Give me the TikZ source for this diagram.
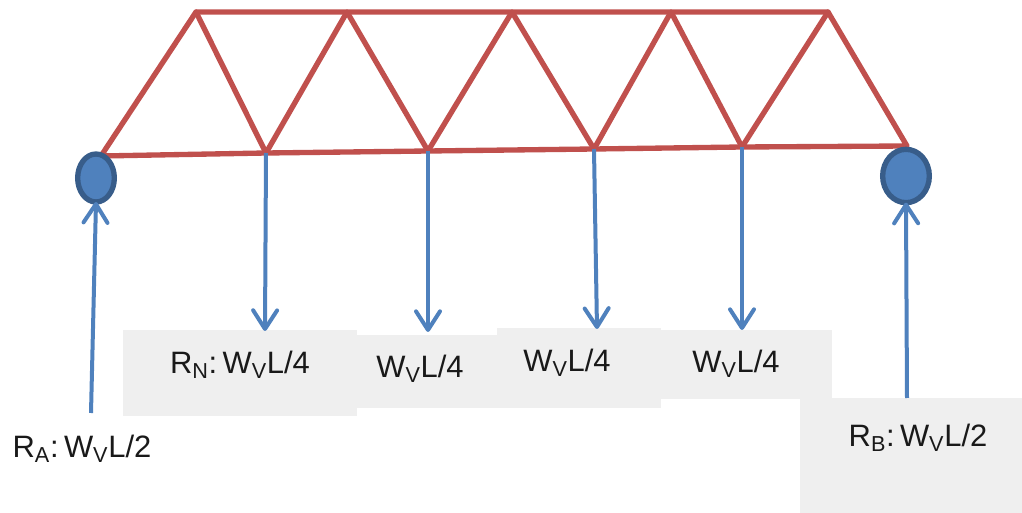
\documentclass[tikz,border=0pt]{standalone}
\usepackage{fontspec}
\setmainfont{Liberation Sans}
\usetikzlibrary{arrows.meta,shapes.geometric}
\definecolor{trusscol}{RGB}{192,80,77}
\definecolor{loadcol}{RGB}{79,129,189}
\definecolor{pinedge}{RGB}{56,93,138}
\definecolor{pinfill}{RGB}{79,129,189}
\definecolor{padcol}{RGB}{239,239,239}
\tikzset{
 px/.style={x=0.75pt,y=-0.75pt},
 member/.style={draw=trusscol,line width=4pt,line cap=round,line join=round},
 load/.style={draw=loadcol,line width=3pt,-{Straight Barb[length=14pt,width=18pt,line width=3pt,round]}},
 pin/.style={ellipse,draw=pinedge,fill=pinfill,line width=4pt,inner sep=0pt,outer sep=0pt},
 lab/.style={font=\fontsize{23.2}{26}\selectfont,text=black!90,inner sep=0pt},
 pad/.style={fill=padcol,draw=none}
}
\newcommand{\gapcolon}{:\hspace{4pt}}
\begin{document}
\begin{tikzpicture}[px]
\useasboundingbox (0,0) rectangle (1022,513);
\fill[pad] (123,330) rectangle (357,416);
\fill[pad] (357,335) rectangle (497,408);
\fill[pad] (497,328) rectangle (661,408);
\fill[pad] (661,330) rectangle (832,399);
\fill[pad] (800,398) rectangle (1022,513);
\coordinate (T1) at (196,12);\coordinate (T2) at (347,12);\coordinate (T3) at (512,12);\coordinate (T4) at (671,12);\coordinate (T5) at (828,12);
\coordinate (B0) at (101,156);\coordinate (B1) at (266,153);\coordinate (B2) at (428,151);\coordinate (B3) at (594,149);\coordinate (B4) at (742,147);\coordinate (B5) at (907,146);
\draw[member] (B0)--(T1)--(T2)--(T3)--(T4)--(T5)--(B5)--(B4)--(B3)--(B2)--(B1)--(B0);
\draw[member] (T1)--(B1)--(T2)--(B2)--(T3)--(B3)--(T4)--(B4)--(T5);
\node[pin,minimum width=27.5pt,minimum height=36pt] (PA) at (96,178) {};
\node[pin,minimum width=35pt,minimum height=40pt] (PB) at (906,176) {};
\coordinate (A0) at (91,413);\coordinate (Bb) at (907,398);
\coordinate (L1) at (265,331);\coordinate (L2) at (428,332);\coordinate (L3) at (597,329);\coordinate (L4) at (742,330);
\draw[load] (A0)--(PA.south);
\draw[load] (Bb)--(PB.south);
\draw[load] (B1)--(L1);\draw[load] (B2)--(L2);\draw[load] (B3)--(L3);\draw[load] (B4)--(L4);
\node[lab] (t1) at (240,365) {R\textsubscript{N}\gapcolon W\textsubscript{V}L/4};
\node[lab] (t2) at (420,369) {W\textsubscript{V}L/4};
\node[lab] (t3) at (567,363) {W\textsubscript{V}L/4};
\node[lab] (t4) at (736,364) {W\textsubscript{V}L/4};
\node[lab] (t5) at (82,449) {R\textsubscript{A}\gapcolon W\textsubscript{V}L/2};
\node[lab] (t6) at (918,438) {R\textsubscript{B}\gapcolon W\textsubscript{V}L/2};
\end{tikzpicture}
\end{document}
